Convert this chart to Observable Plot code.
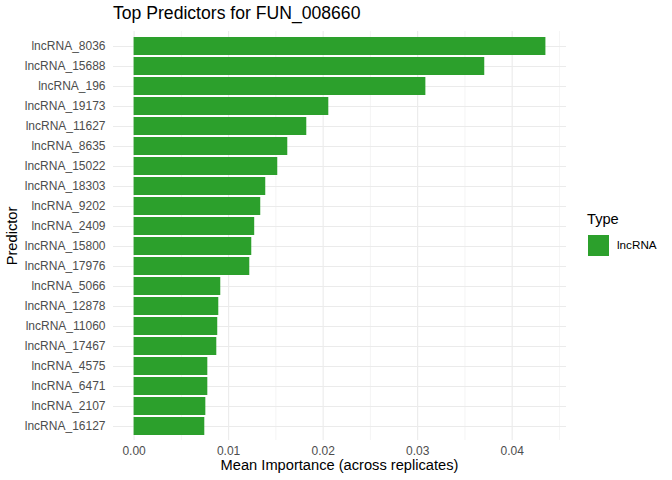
<!DOCTYPE html>
<html>
<head>
<meta charset="utf-8">
<script src="https://cdn.jsdelivr.net/npm/d3@7"></script>
<script src="https://cdn.jsdelivr.net/npm/@observablehq/plot@0.6"></script>
<style>
  html, body { margin: 0; padding: 0; background: #fff; }
  #wrap { position: relative; width: 672px; height: 480px; font-family: "Liberation Sans", Arial, sans-serif; }
  .ov { position: absolute; white-space: nowrap; line-height: 1; }
</style>
</head>
<body>
<div id="wrap"></div>
<script>
const predictors = ["lncRNA_8036","lncRNA_15688","lncRNA_196","lncRNA_19173","lncRNA_11627","lncRNA_8635","lncRNA_15022","lncRNA_18303","lncRNA_9202","lncRNA_2409","lncRNA_15800","lncRNA_17976","lncRNA_5066","lncRNA_12878","lncRNA_11060","lncRNA_17467","lncRNA_4575","lncRNA_6471","lncRNA_2107","lncRNA_16127"];
const importance = [0.04357,0.0371,0.03087,0.0206,0.01827,0.01626,0.0152,0.01393,0.0134,0.01276,0.01245,0.01224,0.00917,0.00896,0.00885,0.00875,0.0078,0.0078,0.00759,0.00748];
const types = predictors.map(() => "lncRNA");
const typeDomain = ["lncRNA"];
const typeColors = ["#2ca02c"];
const majorTicks = [0, 0.01, 0.02, 0.03, 0.04];
const minorTicks = [0.005, 0.015, 0.025, 0.035, 0.045];
const titleText = "Top Predictors for FUN_008660";
const xTitle = "Mean Importance (across replicates)";
const yTitle = "Predictor";
const legendTitle = "Type";

const data = predictors.map((p, i) => ({name: p, value: importance[i], type: types[i]}));
const maxV = d3.max(importance);
const expand = maxV * 0.05;

const W = 672, H = 480, mL = 113, mR = 106, mT = 31, mB = 40;

const chart = Plot.plot({
  width: W, height: H,
  marginLeft: mL, marginRight: mR, marginTop: mT, marginBottom: mB,
  style: {fontFamily: '"Liberation Sans", Arial, sans-serif', background: "#fff"},
  x: {domain: [-expand, maxV + expand], label: null},
  y: {domain: predictors, paddingInner: 0.1, paddingOuter: 0.15, label: null},
  color: {domain: typeDomain, range: typeColors},
  marks: [
    Plot.ruleX(minorTicks, {stroke: "#ebebeb", strokeWidth: 0.55}),
    Plot.ruleX(majorTicks, {stroke: "#ebebeb", strokeWidth: 1.1}),
    Plot.gridY({stroke: "#ebebeb", strokeOpacity: 1, strokeWidth: 1.1}),
    Plot.barX(data, {x: "value", y: "name", fill: "type"}),
    Plot.axisX(majorTicks, {tickSize: 0, tickPadding: 6, tickFormat: d3.format(".2f"), fontSize: 12, color: "#4d4d4d", label: null}),
    Plot.axisY({tickSize: 0, tickPadding: 8, fontSize: 12, color: "#4d4d4d", label: null})
  ]
});

const wrap = document.getElementById("wrap");
wrap.appendChild(chart);

function ov(text, css) {
  const d = document.createElement("div");
  d.className = "ov";
  d.textContent = text;
  Object.assign(d.style, css);
  wrap.appendChild(d);
  return d;
}
ov(titleText, {left: "113px", top: "5px", fontSize: "17.6px", color: "#000"});
ov(xTitle, {left: ((mL + W - mR) / 2) + "px", top: "457.5px", fontSize: "14.67px", color: "#000", transform: "translateX(-50%)"});
ov(yTitle, {left: "12px", top: ((mT + H - mB) / 2) + "px", fontSize: "14.67px", color: "#000", transform: "translate(-50%,-50%) rotate(-90deg)"});
ov(legendTitle, {left: "587px", top: "212px", fontSize: "14.67px", color: "#000"});
typeDomain.forEach((t, i) => {
  const sw = document.createElement("div");
  Object.assign(sw.style, {position: "absolute", left: "588px", top: (235 + i * 22) + "px", width: "21px", height: "21px", background: typeColors[i]});
  wrap.appendChild(sw);
  ov(t, {left: "617px", top: (238.5 + i * 22) + "px", fontSize: "11.7px", color: "#000"});
});
</script>
</body>
</html>
